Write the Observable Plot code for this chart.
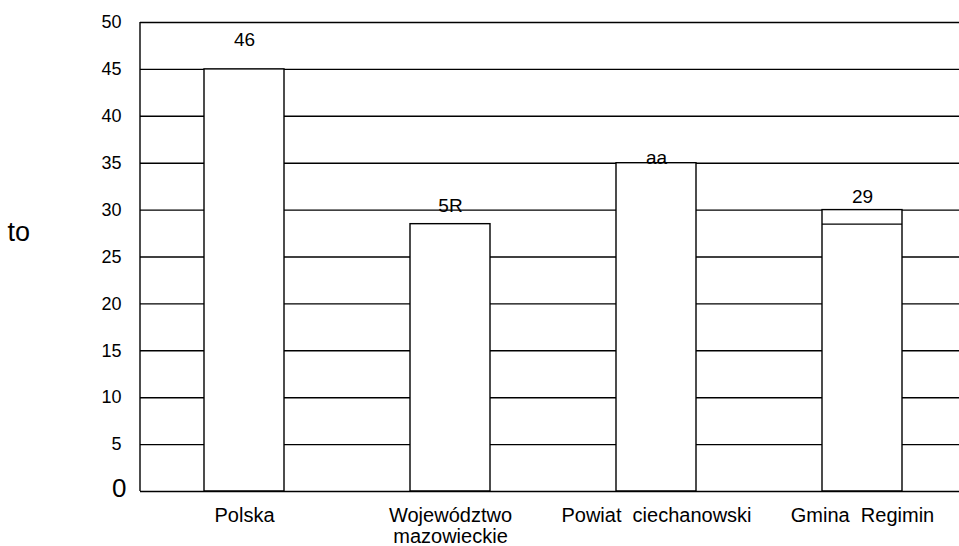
<!DOCTYPE html>
<html>
<head>
<meta charset="utf-8">
<script src="https://cdn.jsdelivr.net/npm/d3@7"></script>
<script src="https://cdn.jsdelivr.net/npm/@observablehq/plot@0.6"></script>
<style>
  html, body { margin: 0; padding: 0; background: #fff; }
  svg { font-family: "Liberation Sans", Arial, sans-serif; overflow: visible; }
</style>
</head>
<body>
<div id="chart"></div>
<script>
const categories = ["Polska", "Województwo\nmazowieckie", "Powiat\u00a0 ciechanowski", "Gmina\u00a0 Regimin"];
const values = [45, 28.5, 35, 30];
const labels = ["46", "5R", "aa", "29"];
const labelLevels = [48.1, 30.4, 35.6, 31.4];
const innerLines = [null, null, null, 28.5];
const yTicks = [0, 5, 10, 15, 20, 25, 30, 35, 40, 45, 50];
const yTitle = "to";

const data = categories.map((c, i) => ({cat: c, value: values[i], label: labels[i], level: labelLevels[i], inner: innerLines[i]}));
const innerData = data.filter(d => d.inner != null);
const gridTicks = yTicks.filter(t => t > 0);

const chart = Plot.plot({
  width: 959,
  height: 546,
  marginLeft: 140,
  marginRight: 0,
  marginTop: 22,
  marginBottom: 55,
  x: {domain: categories, range: [140, 966], paddingInner: 0.61, paddingOuter: 0.305, label: null},
  y: {domain: [0, 50], label: null},
  marks: [
    Plot.ruleY(gridTicks, {stroke: "#000", strokeWidth: 1.4}),
    Plot.barY(data, {x: "cat", y: "value", fill: "#fff", stroke: "#000", strokeWidth: 1.4}),
    Plot.tickY(innerData, {x: "cat", y: "inner", stroke: "#000", strokeWidth: 1.4}),
    Plot.ruleY([0], {stroke: "#000", strokeWidth: 1.4}),
    Plot.axisY({ticks: gridTicks, tickSize: 0, tickPadding: 19, fontSize: 18, tickFormat: d => String(d)}),
    Plot.axisY({ticks: [0], tickSize: 0, tickPadding: 14, fontSize: 26, tickFormat: d => String(d), dy: -3}),
    Plot.axisX({tickSize: 0, tickPadding: 16, fontSize: 20, lineHeight: 1.05}),
    Plot.text(data, {x: "cat", y: "level", text: "label", fontSize: 19, fill: "#000"}),
    Plot.text([yTitle], {frameAnchor: "left", dx: -133, y: [27.6], text: d => d, textAnchor: "start", fontSize: 27, letterSpacing: -3, fill: "#000"})
  ]
});

const svg = d3.select(chart);
svg.append("line").attr("x1", 140).attr("x2", 140).attr("y1", 22).attr("y2", 491).attr("stroke", "#000").attr("stroke-width", 1.4);

document.getElementById("chart").appendChild(chart);
</script>
</body>
</html>
